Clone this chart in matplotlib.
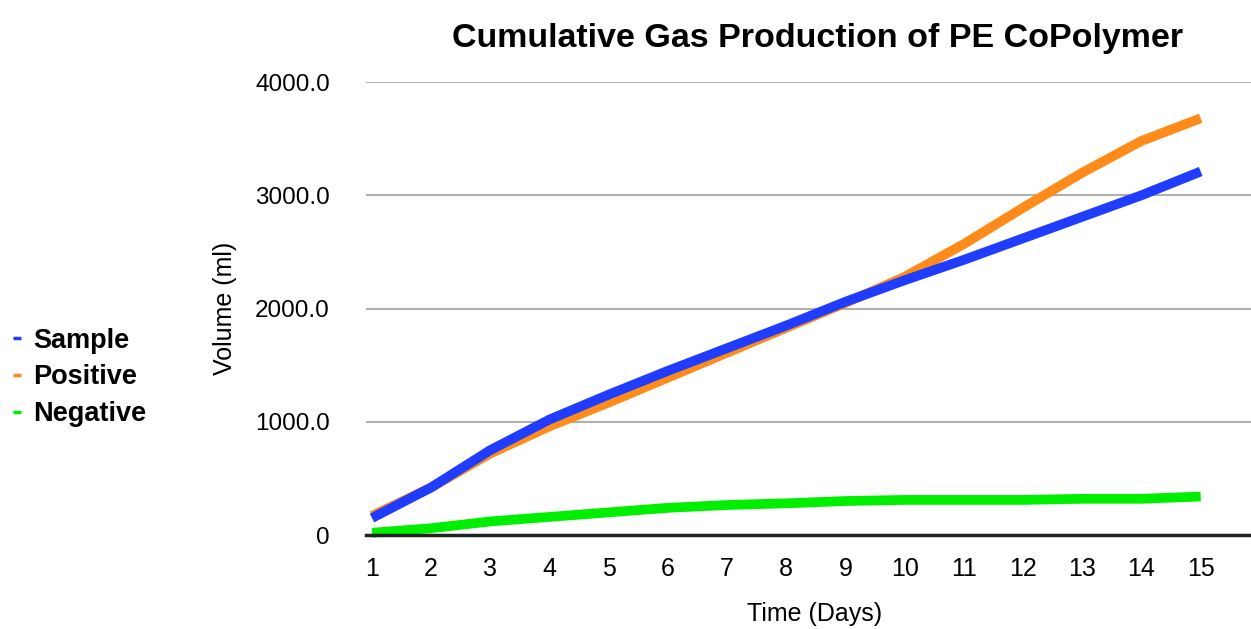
import matplotlib
matplotlib.use("Agg")
import matplotlib.pyplot as plt

days = list(range(1, 16))
sample = [150, 420, 750, 1020, 1240, 1450, 1650, 1850, 2060, 2250, 2430, 2620, 2810, 3000, 3210]
positive = [170, 420, 720, 960, 1170, 1390, 1610, 1830, 2050, 2280, 2570, 2890, 3200, 3480, 3680]
negative = [20, 60, 120, 160, 200, 240, 265, 280, 300, 310, 310, 310, 320, 320, 340]
yticks = [0, 1000, 2000, 3000, 4000]
ytick_labels = ["0", "1000.0", "2000.0", "3000.0", "4000.0"]

font = "Liberation Sans"

fig = plt.figure(figsize=(12.51, 6.29), dpi=100)
ax = fig.add_axes([0.2926, 0.1494, 0.7074, 0.7202])

ax.plot(days, positive, color="#ff8c1a", lw=7, label="Positive", clip_on=False, solid_capstyle="butt")
ax.plot(days, sample, color="#1f3cff", lw=7, label="Sample", clip_on=False, solid_capstyle="butt")
ax.plot(days, negative, color="#00ee00", lw=7, label="Negative", clip_on=False, solid_capstyle="butt")

ax.set_xlim(0.9, 15.85)
ax.set_ylim(0, 4000)
ax.set_xticks(days)
ax.set_xticklabels([str(d) for d in days], fontfamily=font, fontsize=18)
ax.set_yticks(yticks)
ax.set_yticklabels(ytick_labels, fontfamily=font, fontsize=17.5)
ax.tick_params(axis="x", length=0, pad=16)
ax.tick_params(axis="y", length=0, pad=26)
ax.grid(axis="y", color="#b0b0b0", lw=1.5)
ax.set_axisbelow(True)
for s in ["left", "right", "top"]:
    ax.spines[s].set_visible(False)
ax.spines["bottom"].set_color("#222222")
ax.spines["bottom"].set_linewidth(2.5)

ax.set_title("Cumulative Gas Production of PE CoPolymer", fontfamily=font,
             fontsize=24.5, fontweight="bold", pad=25, x=0.51)
ax.set_xlabel("Time (Days)", fontfamily=font, fontsize=18)
ax.xaxis.set_label_coords(0.507, -0.148)
ax.set_ylabel("Volume (ml)", fontfamily=font, fontsize=18)
ax.yaxis.set_label_coords(-0.146, 0.5)

h, l = ax.get_legend_handles_labels()
order = [1, 0, 2]
leg = fig.legend([h[i] for i in order], [l[i] for i in order], loc="center left",
                 bbox_to_anchor=(-0.009, 0.4), frameon=False, handlelength=0.3,
                 handletextpad=0.45, labelspacing=0.4,
                 prop={"family": font, "weight": "bold", "size": 19.5})
for line in leg.get_lines():
    line.set_linewidth(2.5)

fig.savefig("out.png", dpi=100)
